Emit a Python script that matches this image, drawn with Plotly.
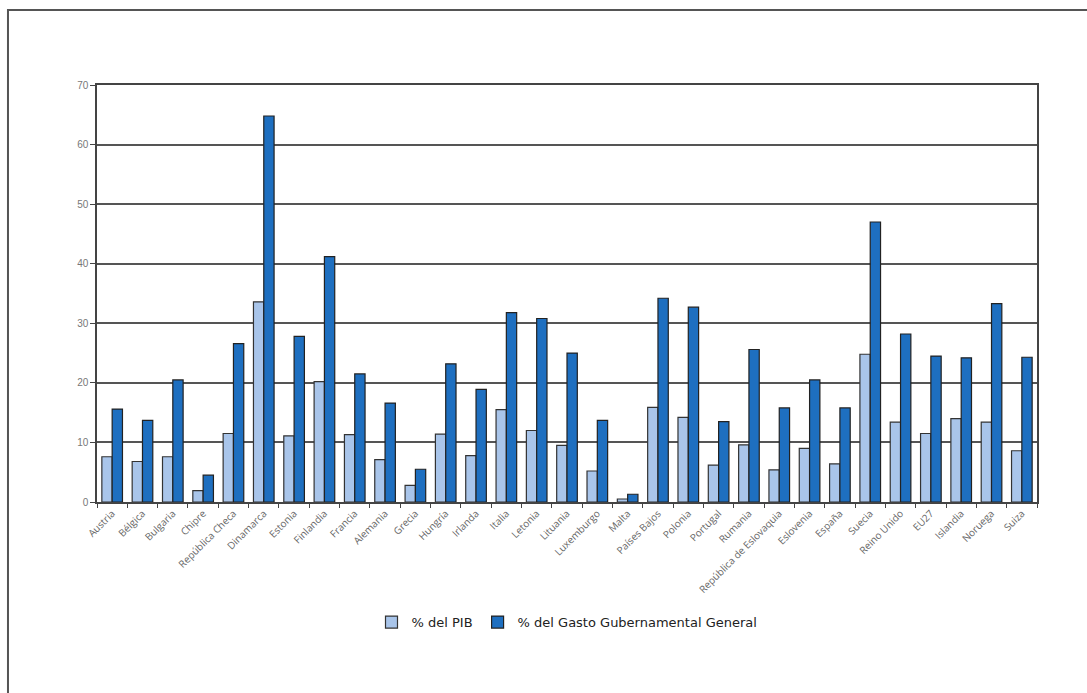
import plotly.graph_objects as go

paises = ["Austria", "Bélgica", "Bulgaria", "Chipre", "República Checa", "Dinamarca",
          "Estonia", "Finlandia", "Francia", "Alemania", "Grecia", "Hungría", "Irlanda",
          "Italia", "Letonia", "Lituania", "Luxemburgo", "Malta", "Países Bajos", "Polonia",
          "Portugal", "Rumania", "República de Eslovaquia", "Eslovenia", "España", "Suecia",
          "Reino Unido", "EU27", "Islandia", "Noruega", "Suiza"]
pib = [7.6, 6.8, 7.6, 1.9, 11.5, 33.6, 11.1, 20.2, 11.3, 7.1, 2.8, 11.4, 7.8, 15.5, 12.0,
       9.5, 5.2, 0.5, 15.9, 14.2, 6.2, 9.6, 5.4, 9.0, 6.4, 24.8, 13.4, 11.5, 14.0, 13.4, 8.6]
gasto = [15.6, 13.7, 20.5, 4.5, 26.6, 64.8, 27.8, 41.2, 21.5, 16.6, 5.5, 23.2, 18.9, 31.8,
         30.8, 25.0, 13.7, 1.3, 34.2, 32.7, 13.5, 25.6, 15.8, 20.5, 15.8, 47.0, 28.2, 24.5,
         24.2, 33.3, 24.3]
y_ticks = [0, 10, 20, 30, 40, 50, 60, 70]

fig = go.Figure()
fig.add_trace(go.Bar(x=paises, y=pib, name="% del PIB",
                     marker=dict(color="#A9C5EA", line=dict(color="#333333", width=1.2))))
fig.add_trace(go.Bar(x=paises, y=gasto, name="% del Gasto Gubernamental General",
                     marker=dict(color="#1E6FC0", line=dict(color="#222222", width=1.2))))

fig.update_layout(
    width=1087, height=693,
    margin=dict(l=97, r=50, t=85, b=191),
    paper_bgcolor="white", plot_bgcolor="white",
    barmode="group", bargap=0.32, bargroupgap=0.0,
    font=dict(family="Liberation Sans", color="#666666"),
    legend=dict(orientation="h", x=0.5, xanchor="center", y=-0.288, yanchor="middle",
                font=dict(family="DejaVu Sans", size=13, color="#222222"),
                itemwidth=30, traceorder="normal"),
    showlegend=True,
)
fig.update_yaxes(range=[0, 70], tickvals=y_ticks, showgrid=True, gridcolor="#555555",
                 gridwidth=1.5, showline=True, linecolor="#444444", linewidth=1.5,
                 mirror=True, ticks="outside", ticklen=5, tickcolor="#444444",
                 tickfont=dict(size=10, color="#777777"), zeroline=False)
fig.update_xaxes(showline=True, linecolor="#444444", linewidth=1.5, mirror=True,
                 ticks="outside", ticklen=4, tickcolor="#444444", tickson="boundaries",
                 tickangle=-45, tickfont=dict(family="Open Sans", size=10, color="#666666"),
                 showgrid=False)

fig.add_shape(type="rect", xref="paper", yref="paper",
              x0=-0.0947, x1=1.08, y0=-0.5, y1=1.18,
              line=dict(color="#555555", width=2), fillcolor="rgba(0,0,0,0)", layer="below")

fig.write_html("out.html")
